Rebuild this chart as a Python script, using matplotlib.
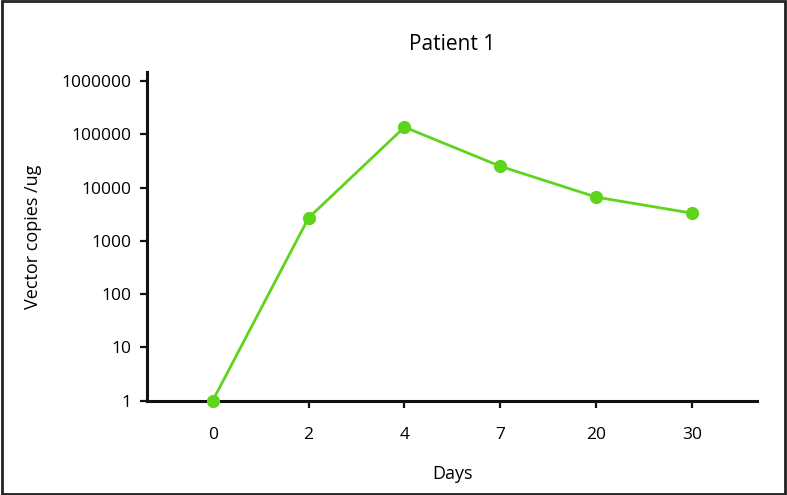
import matplotlib.pyplot as plt
import numpy as np

days = ["0", "2", "4", "7", "20", "30"]
copies = [1, 2700, 136000, 25000, 6600, 3300]
ytick_vals = [1, 10, 100, 1000, 10000, 100000, 1000000]

plt.rcParams['font.family'] = ['Open Sans', 'DejaVu Sans']

fig = plt.figure(figsize=(7.87, 4.95), dpi=100)
ax = fig.add_axes([0.1868, 0.1905, 0.9619 - 0.1868, 0.8545 - 0.1905])

x = np.arange(len(days))
ax.plot(x, copies, color='#5fd41c', linewidth=2, marker='o', markersize=8.5,
        clip_on=False, zorder=3)

ax.set_yscale('log')
ax.set_ylim(1, 1.47e6)
ax.set_xlim(-0.685, 5.676)
ax.set_yticks(ytick_vals, [str(v) for v in ytick_vals])
ax.minorticks_off()
ax.set_xticks(x, days)

for side in ('top', 'right'):
    ax.spines[side].set_visible(False)
for side in ('left', 'bottom'):
    ax.spines[side].set_linewidth(2.2)
    ax.spines[side].set_color('#111111')
ax.tick_params(direction='out', length=5, width=1.6, color='#111111',
               labelsize=12.5, pad=6)
ax.tick_params(axis='x', pad=14)

ax.set_title('Patient 1', fontsize=15, pad=16)
ax.set_xlabel('Days', fontsize=13, labelpad=16)
ax.set_ylabel('Vector copies /ug', fontsize=13, labelpad=14)

# frame around the whole figure
fig.patches.append(plt.Rectangle((0.002, 0.002), 0.996, 0.996, transform=fig.transFigure,
                                 fill=False, edgecolor='#222222', linewidth=2))

plt.savefig('out.png', dpi=100)
